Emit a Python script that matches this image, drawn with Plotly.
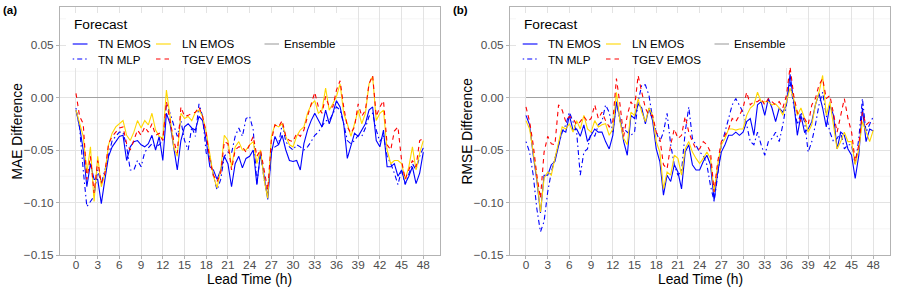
import plotly.graph_objects as go

# ---------------- data ----------------
lead_time = [0, 0.5, 1, 1.5, 2, 2.5, 3, 3.5, 4, 4.5, 5, 5.5, 6, 6.5, 7, 7.5, 8, 8.5, 9, 9.5,
             10, 10.5, 11, 11.5, 12, 12.5, 13, 13.5, 14, 14.5, 15, 15.5, 16, 16.5, 17, 17.5,
             18, 18.5, 19, 19.5, 20, 20.5, 21, 21.5, 22, 22.5, 23, 23.5, 24, 24.5, 25, 25.5,
             26, 26.5, 27, 27.5, 28, 28.5, 29, 29.5, 30, 30.5, 31, 31.5, 32, 32.5, 33, 33.5,
             34, 34.5, 35, 35.5, 36, 36.5, 37, 37.5, 38, 38.5, 39, 39.5, 40, 40.5, 41, 41.5,
             42, 42.5, 43, 43.5, 44, 44.5, 45, 45.5, 46, 46.5, 47, 47.5, 48]

ensemble_lead = [0, 48]
ensemble_diff = [0.0, 0.0]

mae_tn_emos = [
    -0.012, -0.028, -0.050, -0.085, -0.063, -0.078, -0.078, -0.101, -0.078, -0.056,
    -0.047, -0.042, -0.037, -0.036, -0.060, -0.047, -0.042, -0.041, -0.045, -0.047,
    -0.044, -0.036, -0.050, -0.037, -0.060, -0.015, -0.025, -0.047, -0.069, -0.041,
    -0.028, -0.025, -0.029, -0.031, -0.018, -0.022, -0.041, -0.066, -0.069, -0.078,
    -0.069, -0.056, -0.063, -0.085, -0.063, -0.056, -0.067, -0.058, -0.056, -0.050,
    -0.083, -0.053, -0.075, -0.097, -0.053, -0.037, -0.045, -0.036, -0.050, -0.060,
    -0.061, -0.060, -0.069, -0.044, -0.031, -0.022, -0.015, -0.022, -0.028, -0.012,
    -0.025, -0.015, -0.003, -0.009, -0.025, -0.058, -0.047, -0.034, -0.037, -0.031,
    -0.025, -0.012, -0.009, -0.041, -0.047, -0.031, -0.066, -0.066, -0.063, -0.075,
    -0.069, -0.082, -0.075, -0.066, -0.082, -0.072, -0.052]
mae_ln_emos = [
    -0.012, -0.025, -0.037, -0.072, -0.047, -0.099, -0.056, -0.085, -0.072, -0.045,
    -0.034, -0.028, -0.025, -0.022, -0.036, -0.041, -0.033, -0.022, -0.029, -0.022,
    -0.026, -0.015, -0.031, -0.037, -0.039, 0.007, -0.018, -0.047, -0.056, -0.015,
    -0.020, -0.018, -0.022, -0.014, -0.012, -0.018, -0.033, -0.053, -0.075, -0.086,
    -0.069, -0.036, -0.041, -0.066, -0.047, -0.042, -0.050, -0.050, -0.045, -0.042,
    -0.063, -0.050, -0.078, -0.096, -0.037, -0.026, -0.028, -0.025, -0.037, -0.045,
    -0.047, -0.037, -0.031, -0.028, -0.015, -0.007, -0.003, -0.015, -0.012, 0.009,
    -0.012, -0.006, 0.001, 0.013, -0.015, -0.025, -0.037, -0.025, -0.012, -0.025,
    -0.015, 0.013, 0.020, -0.022, -0.015, -0.012, -0.050, -0.063, -0.060, -0.060,
    -0.063, -0.078, -0.066, -0.047, -0.069, -0.053, -0.041]
mae_tgev_emos = [
    0.004, -0.018, -0.025, -0.078, -0.056, -0.091, -0.060, -0.082, -0.072, -0.044,
    -0.037, -0.033, -0.029, -0.028, -0.044, -0.050, -0.041, -0.031, -0.036, -0.028,
    -0.033, -0.025, -0.036, -0.034, -0.041, -0.004, -0.022, -0.041, -0.053, -0.009,
    -0.018, -0.017, -0.015, -0.014, -0.009, -0.018, -0.034, -0.060, -0.074, -0.080,
    -0.072, -0.042, -0.044, -0.069, -0.050, -0.047, -0.047, -0.052, -0.045, -0.037,
    -0.056, -0.050, -0.069, -0.088, -0.041, -0.026, -0.028, -0.022, -0.037, -0.041,
    -0.042, -0.034, -0.037, -0.031, -0.018, -0.006, 0.005, -0.009, -0.015, 0.001,
    -0.009, -0.009, 0.007, 0.016, -0.009, -0.028, -0.034, -0.028, -0.006, -0.018,
    -0.012, 0.013, 0.021, -0.018, -0.009, -0.003, -0.045, -0.050, -0.032, -0.028,
    -0.060, -0.078, -0.069, -0.060, -0.066, -0.041, -0.039]
mae_tn_mlp = [
    -0.010, -0.029, -0.069, -0.104, -0.099, -0.094, -0.069, -0.082, -0.069, -0.056,
    -0.041, -0.037, -0.033, -0.033, -0.047, -0.069, -0.069, -0.060, -0.066, -0.052,
    -0.048, -0.044, -0.047, -0.045, -0.041, -0.006, -0.015, -0.025, -0.037, -0.022,
    -0.041, -0.050, -0.028, -0.037, -0.006, -0.018, -0.053, -0.056, -0.075, -0.088,
    -0.078, -0.056, -0.052, -0.053, -0.037, -0.029, -0.037, -0.020, -0.018, -0.031,
    -0.082, -0.053, -0.078, -0.094, -0.050, -0.047, -0.045, -0.025, -0.042, -0.047,
    -0.050, -0.045, -0.047, -0.050, -0.047, -0.042, -0.036, -0.033, -0.028, -0.022,
    -0.022, -0.015, -0.009, -0.012, -0.025, -0.041, -0.044, -0.041, -0.036, -0.037,
    -0.029, -0.018, -0.015, -0.031, -0.042, -0.036, -0.056, -0.063, -0.072, -0.083,
    -0.069, -0.083, -0.072, -0.063, -0.069, -0.056, -0.048]

rmse_tn_emos = [
    -0.017, -0.026, -0.055, -0.079, -0.110, -0.074, -0.074, -0.064, -0.061, -0.045,
    -0.031, -0.033, -0.017, -0.031, -0.030, -0.037, -0.026, -0.042, -0.036, -0.030,
    -0.033, -0.033, -0.042, -0.049, -0.036, -0.004, -0.020, -0.042, -0.055, -0.017,
    -0.020, -0.006, -0.010, -0.025, -0.010, -0.022, -0.049, -0.061, -0.093, -0.074,
    -0.080, -0.064, -0.071, -0.087, -0.052, -0.045, -0.064, -0.069, -0.069, -0.061,
    -0.055, -0.064, -0.098, -0.071, -0.052, -0.045, -0.036, -0.036, -0.033, -0.036,
    -0.033, -0.023, -0.020, -0.036, -0.007, -0.004, -0.017, -0.001, -0.010, -0.023,
    -0.010, -0.014, -0.007, 0.022, -0.004, -0.036, -0.017, -0.033, -0.030, -0.023,
    -0.007, 0.004, -0.010, -0.028, -0.007, -0.017, -0.049, -0.033, -0.036, -0.049,
    -0.055, -0.077, -0.055, -0.010, -0.042, -0.030, -0.032]
rmse_ln_emos = [
    -0.022, -0.030, -0.052, -0.077, -0.109, -0.077, -0.071, -0.074, -0.058, -0.042,
    -0.028, -0.030, -0.025, -0.033, -0.022, -0.030, -0.017, -0.030, -0.033, -0.022,
    -0.028, -0.026, -0.025, -0.036, -0.030, 0.005, -0.023, -0.039, -0.045, -0.014,
    -0.017, -0.001, -0.014, -0.023, -0.010, -0.017, -0.042, -0.052, -0.087, -0.071,
    -0.074, -0.055, -0.058, -0.074, -0.049, -0.042, -0.052, -0.058, -0.063, -0.058,
    -0.052, -0.058, -0.090, -0.064, -0.045, -0.039, -0.030, -0.030, -0.031, -0.030,
    -0.030, -0.017, -0.010, -0.007, 0.005, -0.004, -0.004, -0.004, -0.007, -0.006,
    -0.010, -0.017, -0.004, 0.009, -0.001, -0.017, -0.010, -0.020, -0.033, -0.026,
    -0.007, 0.005, 0.021, -0.017, -0.004, -0.026, -0.049, -0.042, -0.033, -0.042,
    -0.042, -0.064, -0.049, -0.023, -0.033, -0.042, -0.031]
rmse_tgev_emos = [
    -0.009, -0.023, -0.045, -0.074, -0.096, -0.052, -0.037, -0.044, -0.045, -0.007,
    -0.012, -0.023, -0.018, -0.020, -0.026, -0.023, -0.018, -0.023, -0.020, -0.007,
    -0.020, -0.014, -0.022, -0.028, -0.023, 0.018, -0.007, -0.037, -0.017, -0.004,
    -0.010, 0.021, 0.005, -0.010, -0.017, -0.017, -0.033, -0.039, -0.064, -0.068,
    -0.045, -0.030, -0.039, -0.036, -0.018, -0.033, -0.042, -0.049, -0.049, -0.042,
    -0.045, -0.052, -0.090, -0.061, -0.042, -0.036, -0.030, -0.020, -0.023, -0.017,
    -0.010, 0.005, -0.007, -0.004, -0.004, -0.001, -0.007, -0.001, -0.004, -0.007,
    -0.004, -0.010, 0.002, 0.029, 0.002, -0.014, -0.023, -0.020, -0.026, -0.007,
    -0.001, 0.012, 0.018, -0.001, 0.002, -0.017, -0.033, -0.017, -0.001, -0.020,
    -0.033, -0.061, -0.045, -0.014, -0.026, -0.023, -0.025]
rmse_tn_mlp = [
    -0.042, -0.052, -0.074, -0.106, -0.128, -0.118, -0.090, -0.071, -0.058, -0.045,
    -0.033, -0.026, -0.014, -0.023, -0.033, -0.074, -0.052, -0.049, -0.033, -0.037,
    -0.026, -0.023, -0.007, -0.014, -0.033, -0.004, -0.023, -0.030, -0.033, -0.036,
    -0.033, -0.004, 0.012, 0.012, 0.002, -0.020, -0.033, -0.042, -0.033, -0.015,
    -0.045, -0.064, -0.074, -0.070, -0.033, -0.009, -0.039, -0.045, -0.052, -0.055,
    -0.064, -0.084, -0.099, -0.074, -0.045, -0.033, -0.020, -0.007, -0.001, -0.007,
    -0.014, -0.026, -0.042, -0.045, -0.033, -0.045, -0.055, -0.042, -0.039, -0.033,
    -0.042, -0.026, -0.007, 0.015, -0.007, -0.026, -0.014, -0.023, -0.052, -0.042,
    -0.026, -0.007, 0.005, -0.017, -0.033, -0.042, -0.039, -0.033, -0.049, -0.045,
    -0.045, -0.064, -0.039, -0.001, -0.033, -0.026, -0.018]

x_ticks = [0, 3, 6, 9, 12, 15, 18, 21, 24, 27, 30, 33, 36, 39, 42, 45, 48]
y_ticks = [-0.15, -0.10, -0.05, 0.00, 0.05]
y_minor = [-0.125, -0.075, -0.025, 0.025, 0.075]

series_names = ["TN EMOS", "LN EMOS", "Ensemble", "TN MLP", "TGEV EMOS"]
panel_titles = ["MAE Difference", "RMSE Difference"]
panel_tags = ["(a)", "(b)"]

# ---------------- styles ----------------
FONT = "Liberation Sans, Arial, sans-serif"
W, H = 899, 295
styles = {
    "TN EMOS": dict(color="#0000FF", dash="solid"),
    "LN EMOS": dict(color="#FFD700", dash="solid"),
    "Ensemble": dict(color="#A0A0A0", dash="solid"),
    "TN MLP": dict(color="#0000FF", dash="1.5px,3px,5px,3px"),
    "TGEV EMOS": dict(color="#FF0000", dash="4.5px,4px"),
}

fig = go.Figure()

panels = [
    {"TN EMOS": mae_tn_emos, "LN EMOS": mae_ln_emos, "TN MLP": mae_tn_mlp, "TGEV EMOS": mae_tgev_emos},
    {"TN EMOS": rmse_tn_emos, "LN EMOS": rmse_ln_emos, "TN MLP": rmse_tn_mlp, "TGEV EMOS": rmse_tgev_emos},
]
draw_order = ["TN MLP", "TN EMOS", "LN EMOS", "TGEV EMOS"]

# panel geometry in pixels
panel_left = [60, 510]
panel_w = 380
ptop, pbot = 7, 255

for i, pdata in enumerate(panels):
    xa = "x" if i == 0 else "x2"
    ya = "y" if i == 0 else "y2"
    fig.add_trace(go.Scatter(x=ensemble_lead, y=ensemble_diff, mode="lines", name="Ensemble",
                             line=dict(color=styles["Ensemble"]["color"], width=1.1),
                             xaxis=xa, yaxis=ya, showlegend=False, hoverinfo="skip"))
    for name in draw_order:
        st = styles[name]
        fig.add_trace(go.Scatter(x=lead_time, y=pdata[name], mode="lines", name=name,
                                 line=dict(color=st["color"], width=1.1, dash=st["dash"]),
                                 xaxis=xa, yaxis=ya, showlegend=False))


def dom_x(px, i):
    return (px - panel_left[i]) / panel_w


def dom_y(py):
    return (pbot - py) / (pbot - ptop)


axis_common = dict(
    showline=True, mirror=True, linecolor="#B3B3B3", linewidth=1,
    ticks="outside", ticklen=3, tickcolor="#B3B3B3", tickwidth=1,
    tickfont=dict(family=FONT, size=11.8, color="#4D4D4D"),
    gridcolor="#E3E3E3", gridwidth=0.9, zeroline=False, showgrid=True,
    automargin=False,
)
xcommon = dict(axis_common, range=[-2.21, 50.31], tickmode="array", tickvals=x_ticks,
               ticktext=[str(v) for v in x_ticks], ticklabelstandoff=-4)
ycommon = dict(axis_common, range=[-0.15, 0.0862], tickmode="array", tickvals=y_ticks,
               ticktext=["\u22120.15", "\u22120.10", "\u22120.05", "0.00", "0.05"])

ydom = [(H - pbot) / H, (H - ptop) / H]
fig.update_layout(
    width=W, height=H, autosize=False, margin=dict(l=0, r=0, t=0, b=0, pad=0),
    paper_bgcolor="white", plot_bgcolor="white",
    font=dict(family=FONT, color="black"),
    xaxis=dict(xcommon, domain=[panel_left[0] / W, (panel_left[0] + panel_w) / W], anchor="y"),
    yaxis=dict(ycommon, domain=ydom, anchor="x"),
    xaxis2=dict(xcommon, domain=[panel_left[1] / W, (panel_left[1] + panel_w) / W], anchor="y2"),
    yaxis2=dict(ycommon, domain=ydom, anchor="x2"),
    showlegend=False,
)

shapes = []
annotations = []
legend_rows = {"TN EMOS": (0, 0), "LN EMOS": (1, 0), "Ensemble": (2, 0),
               "TN MLP": (0, 1), "TGEV EMOS": (1, 1)}
key_x = [(72.7, 87.5), (156.0, 170.8), (264.5, 279.0)]
text_x = [96.0, 179.5, 282.0]
row_y = [44.0, 59.0]

for i in range(2):
    xr = "x" if i == 0 else "x2"
    yr = "y" if i == 0 else "y2"
    xd = xr + " domain"
    yd = yr + " domain"
    off = panel_left[i] - panel_left[0]
    # minor horizontal grid lines (lighter)
    for v in y_minor:
        shapes.append(dict(type="line", xref=xd, yref=yr, layer="below", x0=0, x1=1, y0=v, y1=v,
                           line=dict(color="#F0F0F0", width=0.7)))
    # legend background
    shapes.append(dict(type="rect", xref=xd, yref=yd, layer="above",
                       x0=dom_x(66 + off, i), x1=dom_x(340 + off, i),
                       y0=dom_y(68), y1=dom_y(13),
                       fillcolor="white", line=dict(width=0)))
    annotations.append(dict(xref=xd, yref=yd, x=dom_x(72 + off, i), y=dom_y(24),
                            text="Forecast", showarrow=False, xanchor="left", yanchor="middle",
                            font=dict(family=FONT, size=13.7, color="black")))
    for name in series_names:
        col, row = legend_rows[name]
        st = styles[name]
        shapes.append(dict(type="line", xref=xd, yref=yd, layer="above",
                           x0=dom_x(key_x[col][0] + off, i), x1=dom_x(key_x[col][1] + off, i),
                           y0=dom_y(row_y[row]), y1=dom_y(row_y[row]),
                           line=dict(color=st["color"], width=1.1, dash=st["dash"])))
        annotations.append(dict(xref=xd, yref=yd, x=dom_x(text_x[col] + off, i), y=dom_y(row_y[row]),
                                text=name, showarrow=False, xanchor="left", yanchor="middle",
                                font=dict(family=FONT, size=11.6, color="black")))
    # axis titles
    annotations.append(dict(xref="paper", yref="paper", x=(panel_left[i] + panel_w / 2) / W,
                            y=1 - 279.5 / H, text="Lead Time (h)", showarrow=False,
                            xanchor="center", yanchor="middle",
                            font=dict(family=FONT, size=13.8, color="black")))
    annotations.append(dict(xref="paper", yref="paper", x=(16.5 + off) / W,
                            y=1 - 131 / H, text=panel_titles[i], showarrow=False, textangle=-90,
                            xanchor="center", yanchor="middle",
                            font=dict(family=FONT, size=13.8, color="black")))
    annotations.append(dict(xref="paper", yref="paper", x=(0.5 + off) / W, y=1 - 10 / H,
                            text="<b>" + panel_tags[i] + "</b>", showarrow=False,
                            xanchor="left", yanchor="middle",
                            font=dict(family=FONT, size=11.5, color="black")))

fig.update_layout(shapes=shapes, annotations=annotations)
fig.write_html("out.html",
               config={"responsive": False, "displayModeBar": False},
               post_script="document.documentElement.style.margin='0px';"
                           "document.body.style.margin='0px';document.body.style.padding='0px';"
                           "document.documentElement.style.overflow='hidden';"
                           "document.body.style.overflow='hidden';")
